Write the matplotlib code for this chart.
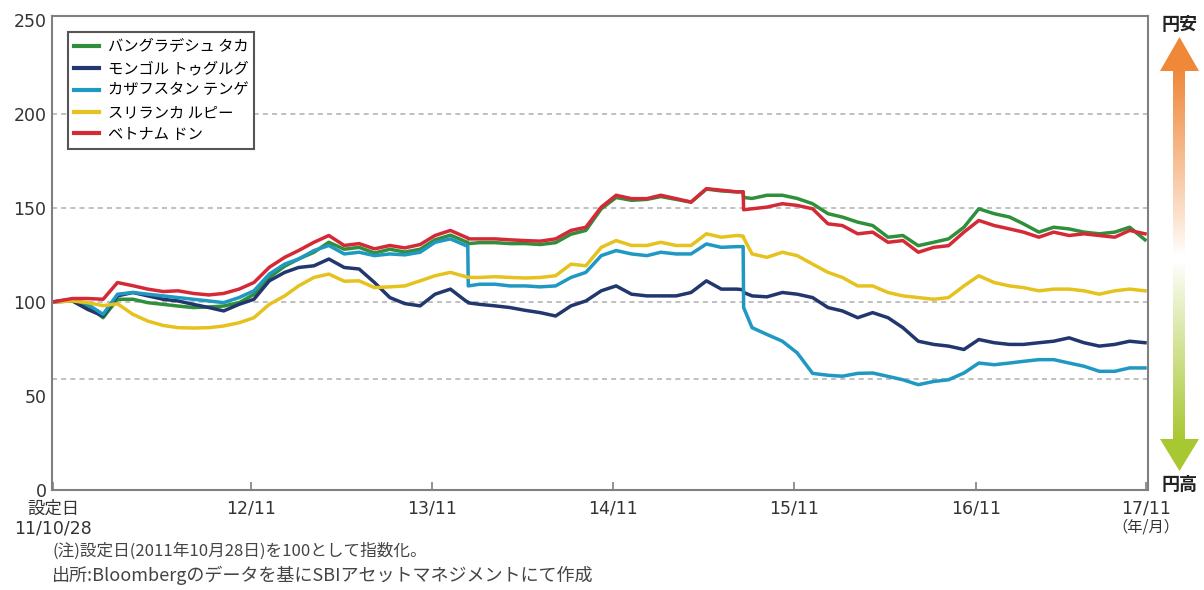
import matplotlib.pyplot as plt
import numpy as np
import pandas as pd
from matplotlib.patches import Polygon

plt.rcParams['font.family'] = ['DejaVu Sans', 'Noto Sans CJK JP']
JP = ['Noto Sans CJK JP', 'DejaVu Sans']

# 月次(各月6日前後)の指数値 + 2014/02, 2015/08 の急変日
start = [pd.Timestamp('2011-10-28')]
monthly = list(pd.date_range('2011-12-01', periods=72, freq='MS') + pd.Timedelta(days=5))
jump1 = [pd.Timestamp('2014-02-10'), pd.Timestamp('2014-02-11')]
jump2 = [pd.Timestamp('2015-08-19'), pd.Timestamp('2015-08-20')]
dates = start + monthly[:27] + jump1 + monthly[27:45] + jump2 + monthly[45:]

names = ['バングラデシュ タカ', 'モンゴル トゥグルグ', 'カザフスタン テンゲ',
         'スリランカ ルピー', 'ベトナム ドン']
colors = ['#2f8f3a', '#22376e', '#1f98c2', '#e6c21e', '#d42a38']

bdt = [100, 101.4, 97.8, 91.6, 101.4, 101.4, 99.6, 98.7, 97.8, 97,
       97.3, 97.8, 99.6, 104, 113, 119, 122.8, 126.4, 131.7, 128,
       129, 126, 128, 126.5, 128, 133, 135.5, 132, 131.5, 131,
       131.5, 131.5, 131, 131, 130.5, 131.5, 136, 138, 149.5, 155.5,
       154, 154.5, 156, 154.5, 153, 160, 159, 158.5, 158.5, 155.5,
       155, 156.7, 156.7, 155, 152.2, 146.9, 145.1, 142.4, 140.6, 134.4,
       135.3, 129.9, 131.7, 133.5, 139.7, 149.5, 146.9, 145.1, 141.5, 137.1,
       139.7, 138.8, 137.1, 136.2, 137.1, 139.7, 133]
mnt = [100, 100.5, 96, 92.5, 103.2, 105, 103.2, 101.4, 100.5, 98.7,
       97, 95.2, 98.7, 101.4, 111.2, 115.7, 118.3, 119.2, 122.8, 118.3,
       117.5, 110.3, 102.3, 99.1, 97.9, 104.1, 106.8, 100.5, 100, 99.5,
       98.7, 97.9, 97, 95.5, 94.3, 92.5, 97.9, 100.5, 105.9, 108.5,
       104.1, 103.2, 103.2, 103.2, 105, 111.2, 106.8, 106.8, 106.5, 105,
       103.2, 102.7, 105, 104.1, 102.3, 97, 95.2, 91.6, 94.3, 91.6,
       86.3, 79.1, 77.4, 76.5, 74.7, 80, 78.3, 77.4, 77.4, 78.3,
       79.1, 80.9, 78.3, 76.5, 77.4, 79.1, 78.3]
kzt = [100, 101.4, 98.7, 93.4, 104.1, 105, 104.1, 103.2, 102.3, 101.4,
       100.5, 99.6, 102.3, 105.9, 114.8, 120.1, 122.8, 127.3, 130, 125.5,
       126.4, 124.6, 125.5, 125, 126.4, 131.7, 133.5, 130, 130, 108.5,
       109.4, 109.4, 108.5, 108.5, 108, 108.5, 113, 115.7, 124.6, 127.3,
       125.5, 124.6, 126.4, 125.5, 125.5, 130.8, 129, 129.4, 129.4, 97,
       86.3, 82.7, 79.1, 72.9, 62, 61, 60.5, 62, 62.2, 60.4,
       58.6, 56, 57.7, 58.6, 62.2, 67.5, 66.6, 67.5, 68.4, 69.3,
       69.3, 67.5, 65.8, 63.1, 63.1, 64.9, 64.9]
lkr = [100, 100.5, 99.6, 98, 99, 93.4, 89.8, 87.5, 86.3, 86.1,
       86.3, 87.2, 88.9, 91.6, 98.7, 103.2, 108.5, 113, 114.8, 111,
       111.2, 107.6, 108, 108.5, 111.2, 113.9, 115.7, 113.4, 113.2, 113,
       113, 113.4, 113, 112.7, 113, 113.9, 120.1, 119.2, 129, 132.6,
       130, 130, 131.7, 130, 130, 136.2, 134.4, 135.3, 135, 134,
       125.5, 123.7, 126.4, 124.6, 120.1, 115.7, 113, 108.5, 108.5, 105,
       103.2, 102.3, 101.4, 102.3, 108.5, 113.9, 110.3, 108.5, 107.6, 105.9,
       106.8, 106.8, 105.9, 104.1, 105.9, 106.8, 105.9]
vnd = [100, 101.8, 101.8, 101.4, 110.3, 108.6, 106.8, 105.5, 105.9, 104.5,
       103.7, 104.5, 106.8, 110.3, 118.4, 123.7, 127.3, 131.7, 135.3, 130,
       131, 128.2, 130, 128.7, 130.5, 135.3, 138, 134.4, 134, 133.5,
       133.5, 133.5, 133, 132.6, 132.3, 133.5, 138, 139.7, 150.4, 156.7,
       154.9, 154.9, 156.7, 154.9, 153.1, 160.2, 159.4, 158.5, 158.5, 149,
       149.5, 150.4, 152.2, 151.3, 149.5, 141.5, 140.6, 136.2, 137.1, 131.7,
       132.6, 126.4, 129, 129.9, 137.1, 143.3, 140.6, 138.8, 137.1, 134.4,
       137.1, 135.3, 136.2, 135.3, 134.4, 138, 136.2]
series = [bdt, mnt, kzt, lkr, vnd]

yticks = [0, 50, 100, 150, 200, 250]
grid_levels = [59, 100, 150, 200]
xtick_dates = ['2011-10-28', '2012-11-30', '2013-11-30', '2014-11-30',
               '2015-11-30', '2016-11-30', '2017-11-08']
xtick_labels = ['設定日\n11/10/28', '12/11', '13/11', '14/11', '15/11', '16/11', '17/11']

W, H = 1204, 590
fig = plt.figure(figsize=(W / 100, H / 100), dpi=100)
ax = fig.add_axes([52 / W, 1 - 490 / H, (1148 - 52) / W, (490 - 16) / H])

for lv in grid_levels:
    ax.axhline(lv, color='#b5b5b5', lw=1.2, ls=(0, (3, 2.5)), zorder=0)

for name, vals, col in zip(names, series, colors):
    ax.plot(dates, vals, color=col, lw=2.5, label=name, solid_joinstyle='round')

ax.set_ylim(0, 252)
ax.set_yticks(yticks)
ax.set_xlim(pd.Timestamp('2011-10-26'), pd.Timestamp('2017-11-12'))
ax.set_xticks([pd.Timestamp(d) for d in xtick_dates])
ax.set_xticklabels(xtick_labels, linespacing=1.1)
ax.tick_params(axis='y', length=0, pad=4, labelsize=12.5, labelcolor='#333333')
ax.tick_params(axis='x', direction='in', length=6, width=1.2, color='#808080',
               labelsize=12.5, labelcolor='#333333', pad=7)
for sp in ax.spines.values():
    sp.set_color('#808080')
    sp.set_linewidth(1.5)

leg = ax.legend(loc='upper left', bbox_to_anchor=(0.0146, 0.966), borderaxespad=0,
                prop={'family': JP, 'size': 11}, handlelength=1.6, handletextpad=0.6,
                labelspacing=0.32, borderpad=0.4, fancybox=False, framealpha=1)
leg.get_frame().set_edgecolor('#555555')
leg.get_frame().set_linewidth(1.5)
for ln in leg.get_lines():
    ln.set_linewidth(3)

# 右側の矢印と注記（ピクセル座標の重ね描き）
ov = fig.add_axes([0, 0, 1, 1])
ov.set_xlim(0, W)
ov.set_ylim(H, 0)
ov.axis('off')
ov.patch.set_alpha(0)

orange = np.array([240, 136, 58]) / 255
green = np.array([168, 200, 50]) / 255
n = 200
grad_o = np.zeros((n, 1, 4))
grad_o[:, 0, :3] = orange
grad_o[:, 0, 3] = np.linspace(1, 0, n) ** 0.9
ov.imshow(grad_o, extent=(1173, 1185, 255, 70), aspect='auto', interpolation='bilinear')
grad_g = np.zeros((n, 1, 4))
grad_g[:, 0, :3] = green
grad_g[:, 0, 3] = np.linspace(0, 1, n) ** 0.9
ov.imshow(grad_g, extent=(1173, 1185, 440, 262), aspect='auto', interpolation='bilinear')
ov.add_patch(Polygon([(1160, 71), (1199, 71), (1179.5, 37)], closed=True, color=orange, lw=0))
ov.add_patch(Polygon([(1160, 439), (1199, 439), (1179.5, 471)], closed=True, color=green, lw=0))
ov.set_xlim(0, W)
ov.set_ylim(H, 0)

ov.text(1180, 25, '円安', ha='center', va='center', fontsize=13, weight='bold', family=JP, color='#222222')
ov.text(1180, 484, '円高', ha='center', va='center', fontsize=13, weight='bold', family=JP, color='#222222')
ov.text(1146, 527, '（年/月）', ha='center', va='center', fontsize=11, family=JP, color='#333333')
ov.text(52, 551, '(注)設定日(2011年10月28日)を100として指数化。', ha='left', va='center',
        fontsize=12, family=JP, color='#444444')
ov.text(52, 575, '出所:Bloombergのデータを基にSBIアセットマネジメントにて作成', ha='left', va='center',
        fontsize=13, family=JP, color='#444444')

fig.savefig('out.png', dpi=100)
